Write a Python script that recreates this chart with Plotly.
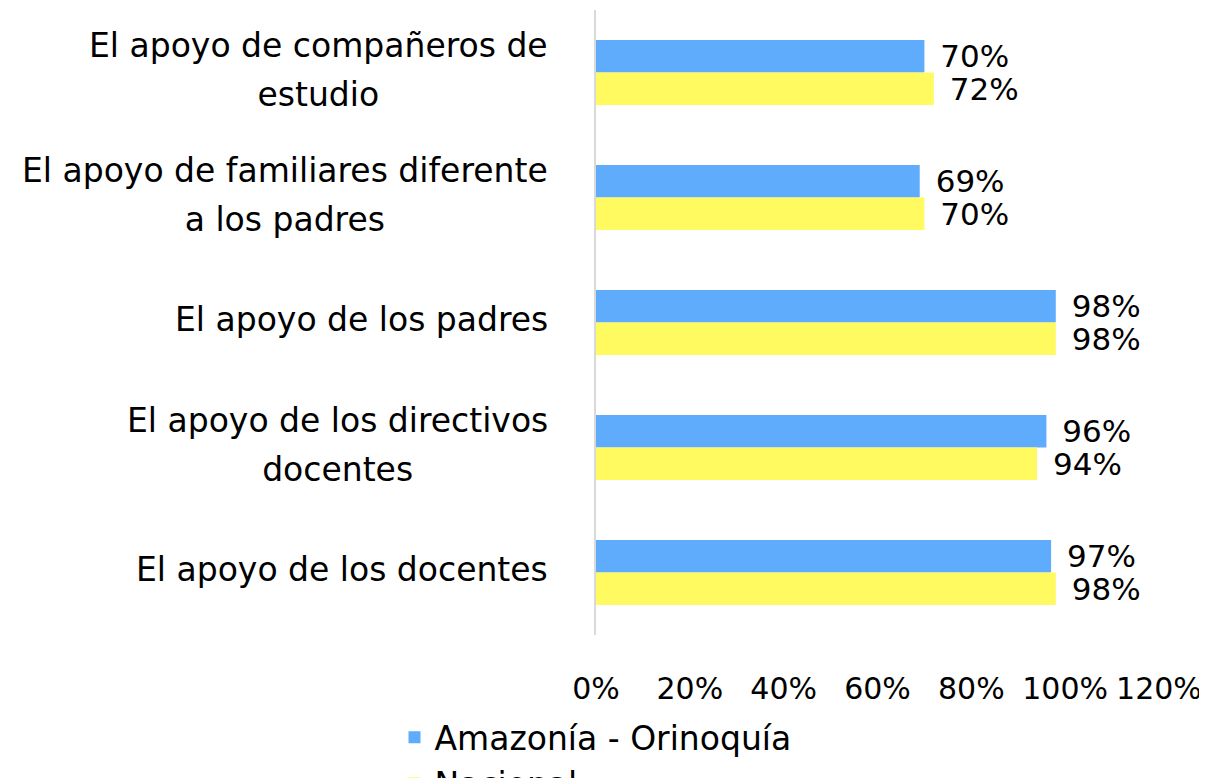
import plotly.graph_objects as go

categories = [
    "El apoyo de compañeros de<br>estudio",
    "El apoyo de familiares diferente<br>a los padres",
    "El apoyo de los padres",
    "El apoyo de los directivos<br>docentes",
    "El apoyo de los docentes",
]
amazonia = [0.70, 0.69, 0.98, 0.96, 0.97]
nacional = [0.72, 0.70, 0.98, 0.94, 0.98]
tick_vals = [0, 0.2, 0.4, 0.6, 0.8, 1.0, 1.2]
tick_text = ["0%", "20%", "40%", "60%", "80%", "100%", "120%"]
series_names = ["Amazonía - Orinoquía", "Nacional"]

FONT = "DejaVu Sans"
BLUE = "#5FABFC"
YELLOW = "#FFFA5F"

def labels(vals):
    return ["\u00a0\u200a" + f"{round(v*100)}%" for v in vals]

fig = go.Figure()
for name, vals, col in [(series_names[0] + "\u00a0" * 3, amazonia, BLUE),
                        (series_names[1], nacional, YELLOW)]:
    fig.add_trace(go.Bar(
        y=categories, x=vals, orientation="h", name=name,
        marker=dict(color=col, line=dict(width=0)),
        text=labels(vals), textposition="outside", cliponaxis=False,
        constraintext="none",
        textfont=dict(family=FONT, size=31, color="#000000"),
    ))

# category labels: centred lines, block right-aligned left of the axis
for c in categories:
    fig.add_annotation(
        x=0, xref="paper", y=c, yref="y",
        text="<span style='font-size:33px'>" + c.replace("<br>", "</span><br><span style='font-size:33px'>") + "</span>",
        showarrow=False, align="center",
        xanchor="right", yanchor="middle", xshift=-46, yshift=3,
        font=dict(family=FONT, size=38, color="#000000"),
    )

fig.update_layout(
    width=1207, height=778,
    margin=dict(l=588, r=56, t=2, b=151, autoexpand=False),
    paper_bgcolor="white", plot_bgcolor="white",
    barmode="group", bargap=0.48, bargroupgap=0,
    font=dict(family=FONT, size=33, color="#000000"),
    showlegend=True,
    legend=dict(orientation="h", x=0.5, xref="container", xanchor="center",
                y=0.033, yref="container", yanchor="middle",
                font=dict(family=FONT, size=33, color="#000000")),
)
fig.update_xaxes(range=[0, 1.2], tickvals=tick_vals, ticktext=tick_text,
                 showgrid=False, zeroline=False, showline=False, automargin=False,
                 ticks="outside", ticklen=27, tickcolor="rgba(0,0,0,0)",
                 tickfont=dict(family=FONT, size=30, color="#000000"))
fig.update_yaxes(type="category", categoryorder="array", categoryarray=categories,
                 autorange="reversed", showticklabels=False, showgrid=False, automargin=False,
                 showline=True, linecolor="#d9d9d9", linewidth=2, zeroline=False,
                 ticks="")

fig.write_html("out.html")
